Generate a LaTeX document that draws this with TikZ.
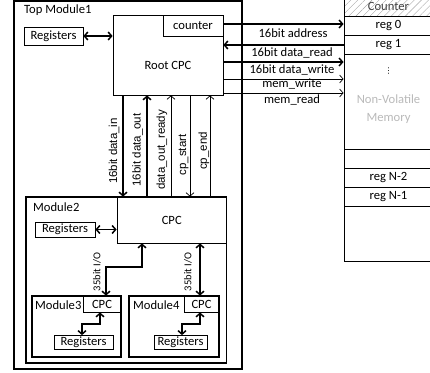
\documentclass[tikz,border=0pt]{standalone}
\usepackage{fontspec}
\setmainfont{Carlito}
\newfontfamily\sigfont{Liberation Sans}
\newfontfamily\symfont{DejaVu Sans}
\usetikzlibrary{arrows.meta,patterns.meta}

\begin{document}
\begin{tikzpicture}[x=1pt,y=-1pt,
  font=\fontsize{12.6}{15}\selectfont,
  >={Straight Barb[length=3.5pt,width=8pt]},
  blk/.style 2 args={draw, line width=0.8pt, fill=white, inner sep=0pt,
    minimum width=#1pt, minimum height=#2pt},
  module/.style 2 args={draw, line width=1.6pt, inner sep=0pt,
    minimum width=#1pt, minimum height=#2pt},
  cell/.style={draw, line width=0.9pt, inner sep=0pt, minimum width=89pt,
    minimum height=#1pt},
  txt/.style={inner sep=0pt},
  bus/.style={line width=1.5pt},
  sig/.style={line width=0.7pt},
  vlab/.style={inner sep=0pt, rotate=90, font=\sigfont\fontsize{11.5}{13}\selectfont},
  iolab/.style={inner sep=0pt, rotate=90, font=\fontsize{10.5}{12}\selectfont},
]
\useasboundingbox (0,0) rectangle (430,372);

% ---------- non-volatile memory column ----------
\node[cell=20, pattern={Lines[angle=45,distance=5pt,line width=0.4pt]},
      pattern color=gray!70, text=black!75] (mcnt) at (388.5,6) {Counter};
\node[cell=19] (mreg0) at (388.5,25.5) {reg 0};
\node[cell=19] (mreg1) at (388.5,44.5) {reg 1};
\node[cell=95] (mbody) at (388.5,101.5) {};
\node[cell=19] (mblank) at (388.5,158.5) {};
\node[cell=19] (mregNa) at (388.5,177.5) {reg N-2};
\node[cell=19] (mregNb) at (388.5,196.5) {reg N-1};
\node[cell=55] (mtail) at (388.5,233.5) {};
\node[txt, font=\symfont\fontsize{8}{8}\selectfont] (mdots) at (388.5,71) {⋮};
\node[txt, align=center, text=gray!55, font=\fontsize{12.6}{18}\selectfont]
      (mname) at (388.5,109) {Non-Volatile\\Memory};

% ---------- top module ----------
\node[module={228}{368}, line width=1.4pt] (top) at (128,185) {};
\node[txt, anchor=west] (toplab) at (24,10) {Top Module1};
\node[blk={110}{80}] (root) at (168,55) {};
\node[txt] (rootlab) at (168,65) {Root CPC};
\node[blk={60}{21}] (counter) at (193,25.5) {counter};
\node[blk={59}{18}] (regtop) at (53.5,36) {Registers};
\draw[bus,<->] (regtop.east) -- (regtop.east -| root.west);

% signal levels towards the memory
\coordinate (yaddr) at (0,24);
\coordinate (yrd) at (0,45);
\coordinate (ywr) at (0,62);
\coordinate (ymw) at (0,79);
\coordinate (ymr) at (0,93);

\draw[bus,->] (counter.east |- yaddr) -- (mreg0.west |- yaddr);
\draw[bus,->] (mreg1.west |- yrd) -- (root.east |- yrd);
\draw[bus,->] (root.east |- ywr) -- (mbody.west |- ywr);
\draw[sig,->] (root.east |- ymw) -- (mbody.west |- ymw);
\draw[sig,->] (root.east |- ymr) -- (mbody.west |- ymr);

\node[txt] (laddr) at (293,33.3) {16bit address};
\node[txt] (lrd) at (292,52.8) {16bit data\_read};
\node[txt] (lwr) at (292,69.5) {16bit data\_write};
\node[txt] (lmw) at (292,83.6) {mem\_write};
\node[txt] (lmr) at (292,99.5) {mem\_read};

% ---------- module 2 ----------
\node[module={200.5}{166}] (mod2) at (126.25,280) {};
\node[blk={109.5}{46}] (cpc) at (171.75,220) {CPC};
\node[txt, anchor=west] (mod2lab) at (33,207) {Module2};
\node[blk={60}{15}] (reg2) at (65,229.5) {Registers};
\draw[bus,<->] (reg2.east) -- (reg2.east -| cpc.west);

% handshake between root CPC and CPC
\coordinate (xdin) at (123,0);
\coordinate (xdout) at (147,0);
\coordinate (xrdy) at (171,0);
\coordinate (xcps) at (190,0);
\coordinate (xcpe) at (210,0);
\draw[bus,->] (root.south -| xdin) -- (cpc.north -| xdin);
\draw[bus,->] (cpc.north -| xdout) -- (root.south -| xdout);
\draw[sig,->] (cpc.north -| xrdy) -- (root.south -| xrdy);
\draw[sig,->] (root.south -| xcps) -- (cpc.north -| xcps);
\draw[sig,->] (cpc.north -| xcpe) -- (root.south -| xcpe);

\node[vlab] (ldin) at (114,151) {16bit data\_in};
\node[vlab] (ldout) at (137.5,150) {16bit data\_out};
\node[vlab] (lrdy) at (162,150) {data\_out\_ready};
\node[vlab] (lcps) at (183.5,155) {cp\_start};
\node[vlab] (lcpe) at (204,151) {cp\_end};

% ---------- modules 3 and 4 ----------
\node[blk={38}{16}] (cpc3) at (102,304) {CPC};
\node[module={89}{61}] (mod3) at (76.5,326.5) {};
\node[txt, anchor=west] (mod3lab) at (35,305) {Module3};
\node[blk={59}{13.5}] (reg3) at (83.5,342.25) {Registers};

\node[blk={35}{16}] (cpc4) at (201.5,304) {CPC};
\node[module={90}{61}] (mod4) at (174,326.5) {};
\node[txt, anchor=west] (mod4lab) at (133,305) {Module4};
\node[blk={53}{13.5}] (reg4) at (180.5,342.25) {Registers};

% 35bit I/O buses
\coordinate (xa) at (142,0);
\coordinate (xb) at (106,0);
\coordinate (yb) at (0,267);
\coordinate (xc) at (200,0);
\draw[bus,<->] (cpc.south -| xa) -- (xa |- yb) -| (cpc3.north -| xb);
\draw[bus,<->] (cpc.south -| xc) -- (cpc4.north -| xc);
\node[iolab] (lio3) at (97,272) {35bit I/O};
\node[iolab] (lio4) at (188,272) {35bit I/O};

% local register links
\coordinate (m3a) at (100,0);
\coordinate (m3b) at (82,0);
\coordinate (m4a) at (200,0);
\coordinate (m4b) at (182,0);
\coordinate (ym) at (0,324);
\draw[bus,<->] (cpc3.south -| m3a) -- (m3a |- ym) -| (reg3.north -| m3b);
\draw[bus,<->] (cpc4.south -| m4a) -- (m4a |- ym) -| (reg4.north -| m4b);
\end{tikzpicture}
\end{document}
